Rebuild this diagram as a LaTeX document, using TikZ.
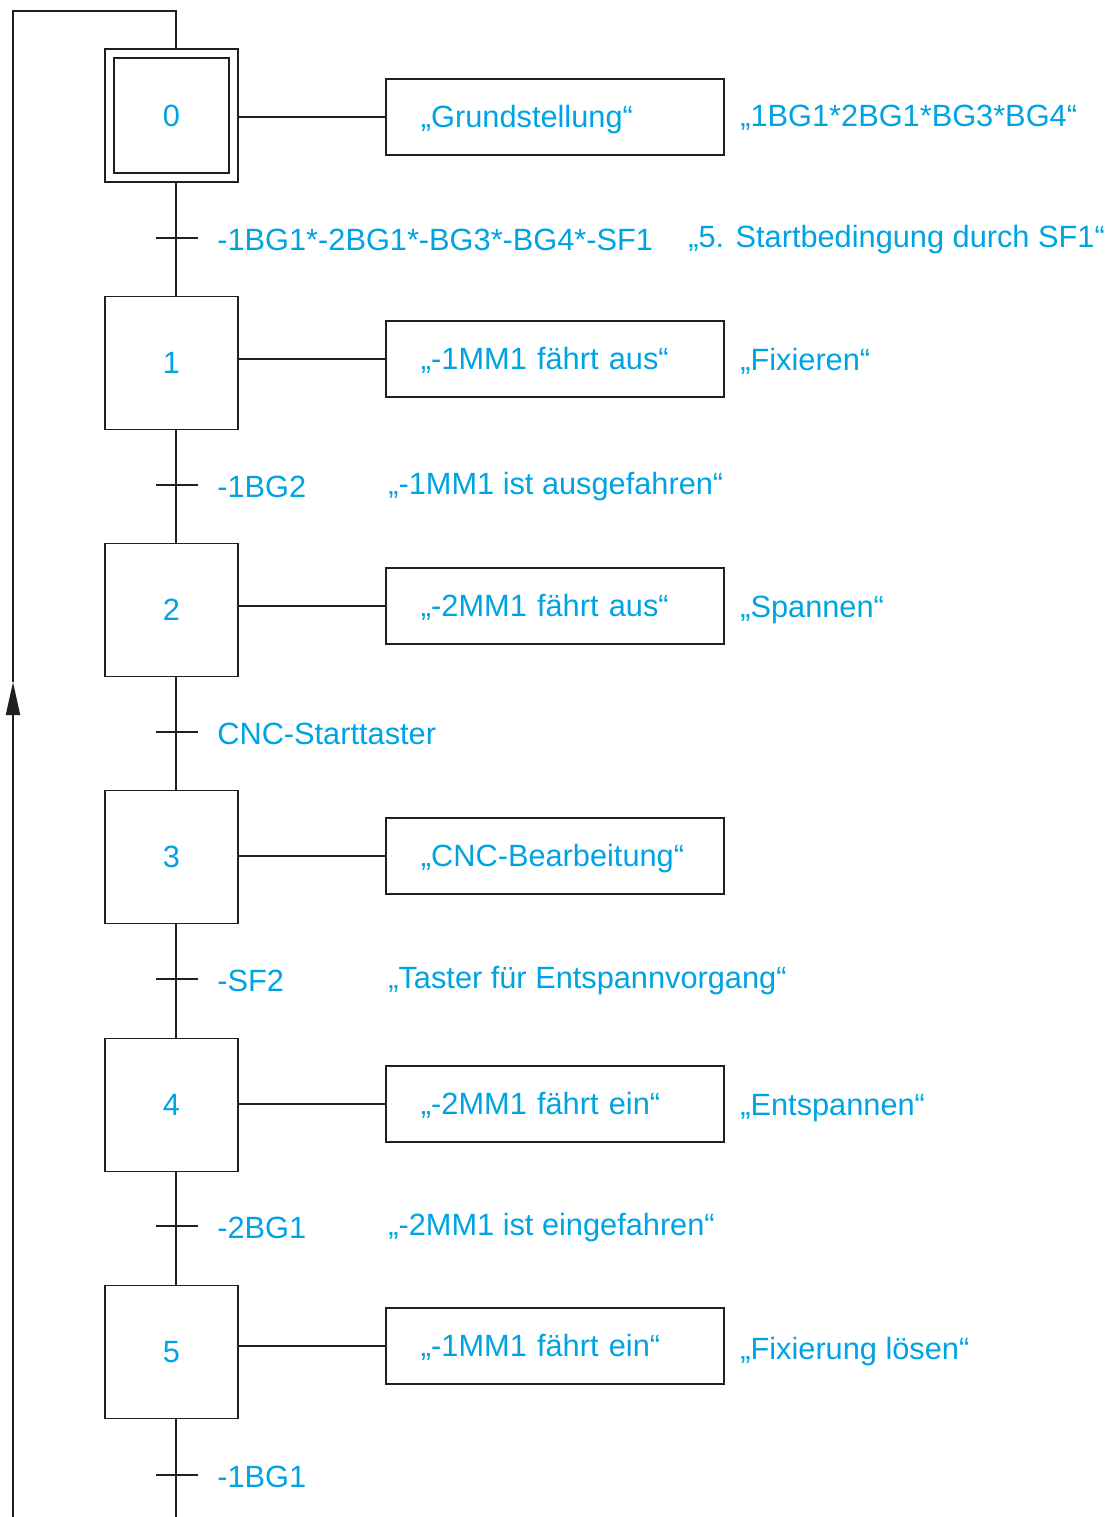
\documentclass[tikz,border=0pt]{standalone}
\usepackage{fontspec}
\setmainfont{Liberation Sans}
\usetikzlibrary{arrows.meta}
\definecolor{txtblue}{RGB}{0,163,226}
\definecolor{linegray}{RGB}{35,31,32}
\tikzset{
  lbl/.style={text=txtblue, font=\fontsize{17.5pt}{21pt}\selectfont, inner sep=0pt},
  stepbox/.style={lbl, draw=linegray, line width=1.1pt, minimum size=2.66cm, inner sep=0pt},
  actbox/.style={lbl, draw=linegray, line width=1.1pt, minimum height=1.52cm, text width=5.36cm,
    text height=12.5pt, text depth=0pt, inner xsep=0.7cm, inner ysep=0pt, align=left, anchor=west},
  conn/.style={draw=linegray, line width=1.1pt}
}
\begin{document}
\begin{tikzpicture}[x=0.02cm, y=-0.02cm]
\useasboundingbox (0,0) rectangle (1118,1517);
% steps
\node[stepbox] (s0) at (171.5,115.5) {};
\node[lbl, draw=linegray, line width=1.1pt, minimum size=2.3cm] (s0in) at (171.5,115.5) {0};
\node[stepbox] (s1) at (171.5,363) {1};
\node[stepbox] (s2) at (171.5,610) {2};
\node[stepbox] (s3) at (171.5,857) {3};
\node[stepbox] (s4) at (171.5,1105) {4};
\node[stepbox] (s5) at (171.5,1352) {5};
% actions
\node[actbox] (a0) at (385,117) {„Grundstellung“};
\node[actbox] (a1) at (385,359) {„-1MM1 fährt aus“};
\node[actbox] (a2) at (385,606) {„-2MM1 fährt aus“};
\node[actbox] (a3) at (385,856) {„CNC-Bearbeitung“};
\node[actbox] (a4) at (385,1104) {„-2MM1 fährt ein“};
\node[actbox] (a5) at (385,1346) {„-1MM1 fährt ein“};
\draw[conn] (a0.west -| s0.east) -- (a0.west);
\draw[conn] (a1.west -| s1.east) -- (a1.west);
\draw[conn] (a2.west -| s2.east) -- (a2.west);
\draw[conn] (a3.west -| s3.east) -- (a3.west);
\draw[conn] (a4.west -| s4.east) -- (a4.west);
\draw[conn] (a5.west -| s5.east) -- (a5.west);
% comments
\node[lbl, anchor=west] (c0) at (740,118) {„1BG1*2BG1*BG3*BG4“};
\node[lbl, anchor=west] (c1) at (740,361) {„Fixieren“};
\node[lbl, anchor=west] (c2) at (740,610) {„Spannen“};
\node[lbl, anchor=west] (c4) at (740,1108) {„Entspannen“};
\node[lbl, anchor=west] (c5) at (740,1352) {„Fixierung lösen“};
% transitions
\coordinate (t0) at (176,238);
\coordinate (t1) at (176,485);
\coordinate (t2) at (176,732);
\coordinate (t3) at (176,979);
\coordinate (t4) at (176,1226);
\coordinate (t5) at (176,1475);
\coordinate (bot) at (176,1517);
\draw[conn] (s0.south -| t0) -- (s1.north -| t0);
\draw[conn] (s1.south -| t1) -- (s2.north -| t1);
\draw[conn] (s2.south -| t2) -- (s3.north -| t2);
\draw[conn] (s3.south -| t3) -- (s4.north -| t3);
\draw[conn] (s4.south -| t4) -- (s5.north -| t4);
\draw[conn] (s5.south -| bot) -- (bot);
\draw[conn] ([xshift=-0.4cm]t0) -- ([xshift=0.44cm]t0);
\draw[conn] ([xshift=-0.4cm]t1) -- ([xshift=0.44cm]t1);
\draw[conn] ([xshift=-0.4cm]t2) -- ([xshift=0.44cm]t2);
\draw[conn] ([xshift=-0.4cm]t3) -- ([xshift=0.44cm]t3);
\draw[conn] ([xshift=-0.4cm]t4) -- ([xshift=0.44cm]t4);
\draw[conn] ([xshift=-0.4cm]t5) -- ([xshift=0.44cm]t5);
\node[lbl, anchor=west] (tl0) at (217,240) {-1BG1*-2BG1*-BG3*-BG4*-SF1};
\node[lbl, anchor=west] (tc0) at (688,240) {„5. Startbedingung durch SF1“};
\node[lbl, anchor=west] (tl1) at (217,487) {-1BG2};
\node[lbl, anchor=west] (tc1) at (388,487) {„-1MM1 ist ausgefahren“};
\node[lbl, anchor=west] (tl2) at (217,734) {CNC-Starttaster};
\node[lbl, anchor=west] (tl3) at (217,981) {-SF2};
\node[lbl, anchor=west] (tc3) at (388,981) {„Taster für Entspannvorgang“};
\node[lbl, anchor=west] (tl4) at (217,1228) {-2BG1};
\node[lbl, anchor=west] (tc4) at (388,1228) {„-2MM1 ist eingefahren“};
\node[lbl, anchor=west] (tl5) at (217,1477) {-1BG1};
% return loop
\coordinate (lb) at (13,1517);
\coordinate (la) at (13,682);
\coordinate (lt) at (13,11);
\coordinate (rt) at (176,11);
\draw[conn, -{Triangle[length=0.66cm, width=0.28cm]}] (lb) -- (la);
\draw[conn] (la) -- (lt) -- (rt) -- (s0.north -| rt);
\end{tikzpicture}
\end{document}
